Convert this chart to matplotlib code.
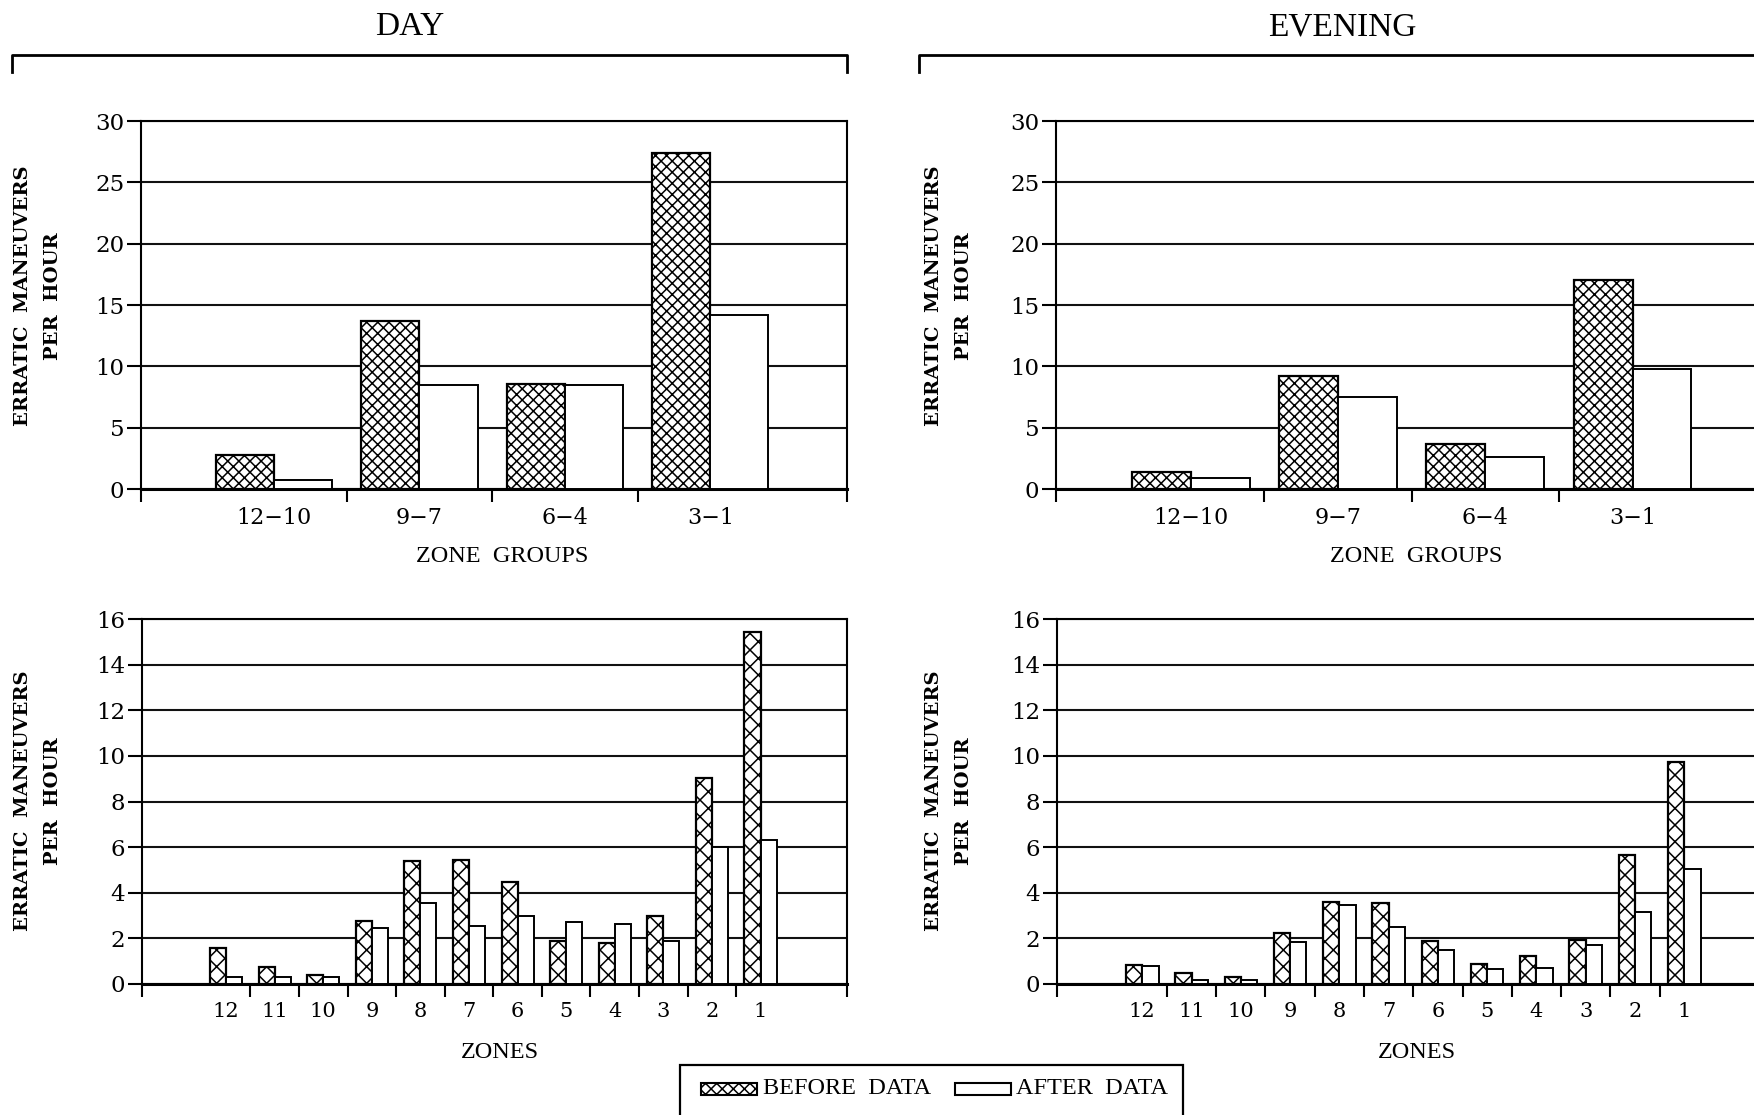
import numpy as np
import matplotlib
matplotlib.use("Agg")
import matplotlib.pyplot as plt
from matplotlib.patches import Rectangle
from matplotlib.lines import Line2D

# zone groups (top row) and single zones (bottom row)
group_labels = ["12\u221210", "9\u22127", "6\u22124", "3\u22121"]
zone_labels = ["12", "11", "10", "9", "8", "7", "6", "5", "4", "3", "2", "1"]

day_groups_before = [2.8, 13.7, 8.6, 27.4]
day_groups_after = [0.7, 8.5, 8.5, 14.2]
eve_groups_before = [1.4, 9.2, 3.7, 17.0]
eve_groups_after = [0.9, 7.5, 2.6, 9.8]

day_zones_before = [1.57, 0.73, 0.38, 2.75, 5.4, 5.45, 4.45, 1.9, 1.8, 3.0, 9.05, 15.45]
day_zones_after = [0.32, 0.32, 0.32, 2.45, 3.55, 2.55, 3.0, 2.72, 2.62, 1.9, 6.0, 6.3]
eve_zones_before = [0.83, 0.47, 0.32, 2.25, 3.6, 3.57, 1.87, 0.88, 1.24, 1.95, 5.65, 9.72]
eve_zones_after = [0.8, 0.19, 0.19, 1.82, 3.45, 2.52, 1.5, 0.66, 0.72, 1.72, 3.15, 5.02]

W, H = 1754, 1115
plt.rcParams['font.family'] = ['DejaVu Serif']
plt.rcParams['hatch.linewidth'] = 1.1
plt.rcParams['hatch.color'] = 'black'

fig = plt.figure(figsize=(W / 100, H / 100), dpi=100)
fig.patch.set_facecolor('white')


def px_axes(left, top, right, bottom):
    return fig.add_axes([left / W, 1 - bottom / H, (right - left) / W, (bottom - top) / H])


def draw_panel(ax, labels, before, after, ymax, ystep, xlim, width, hatch, fs):
    x = np.arange(len(labels))
    ax.bar(x - width, before, width, align='edge', color='white', edgecolor='black',
           hatch=hatch, linewidth=1.6, zorder=3)
    ax.bar(x, after, width, align='edge', color='white', edgecolor='black',
           linewidth=1.4, zorder=3)
    ax.set_xlim(xlim)
    ax.set_ylim(0, ymax)
    ax.set_yticks(np.arange(0, ymax + 1, ystep))
    ax.yaxis.grid(True, color='#111111', linewidth=1.5)
    ax.set_axisbelow(True)
    ax.set_xticks(x, labels)
    bounds = list(x[:-1] + 0.5) + list(xlim)
    ax.set_xticks(bounds, minor=True)
    ax.tick_params(axis='x', which='major', length=0, pad=13, labelsize=fs)
    ax.tick_params(axis='x', which='minor', length=9, width=1.5, direction='out')
    ax.tick_params(axis='y', length=10, width=1.5, pad=2, labelsize=16.5)
    for s in ax.spines.values():
        s.set_linewidth(1.5)
    ax.spines['bottom'].set_linewidth(2.2)


# top row: zone groups
ax1 = px_axes(141, 121, 847, 489)
draw_panel(ax1, group_labels, day_groups_before, day_groups_after, 30, 5,
           (-0.915, 3.94), 0.4, 'xxx', 16)
ax2 = px_axes(1056, 121, 1771, 489)
draw_panel(ax2, group_labels, eve_groups_before, eve_groups_after, 30, 5,
           (-0.915, 3.94), 0.4, 'xxx', 16)

# bottom row: single zones
ax3 = px_axes(142, 619, 847, 984)
draw_panel(ax3, zone_labels, day_zones_before, day_zones_after, 16, 2,
           (-1.73, 12.78), 0.33, 'xx', 15)
ax4 = px_axes(1057, 619, 1772, 984)
draw_panel(ax4, zone_labels, eve_zones_before, eve_zones_after, 16, 2,
           (-1.73, 12.78), 0.33, 'xx', 15)

# titles and brackets
title_font = dict(family='Liberation Serif', fontsize=24, ha='center', va='center')
fig.text(410 / W, 1 - 27 / H, 'DAY', **title_font)
fig.text(1342 / W, 1 - 27 / H, 'EVENING', **title_font)

for xs in ([12, 12, 847, 847], [919, 919, 1800, 1800]):
    ys = [72, 55, 55, 72]
    fig.add_artist(Line2D([v / W for v in xs], [1 - v / H for v in ys],
                          transform=fig.transFigure, color='black', linewidth=2.0))

# axis titles
ylab = "ERRATIC  MANEUVERS\nPER  HOUR"
for cx, cy in ((38, 296), (949, 296), (38, 801), (949, 801)):
    fig.text(cx / W, 1 - cy / H, ylab, rotation=90, ha='center', va='center',
             fontsize=14, fontweight='bold', linespacing=1.85)

xl_font = dict(family='Liberation Serif', fontsize=17.5, ha='center', va='center')
fig.text(502 / W, 1 - 556 / H, 'ZONE  GROUPS', **xl_font)
fig.text(1416 / W, 1 - 556 / H, 'ZONE  GROUPS', **xl_font)
fig.text(500 / W, 1 - 1053 / H, 'ZONES', **xl_font)
fig.text(1417 / W, 1 - 1053 / H, 'ZONES', **xl_font)

# legend box (runs off the bottom edge)
fig.add_artist(Rectangle((680 / W, 1 - 1140 / H), (1183 - 680) / W, 75 / H,
                         transform=fig.transFigure, fill=False, edgecolor='black', linewidth=1.6))
fig.add_artist(Rectangle((701 / W, 1 - 1095 / H), 56 / W, 12 / H, transform=fig.transFigure,
                         facecolor='white', edgecolor='black', hatch='xxx', linewidth=1.5))
fig.add_artist(Rectangle((955 / W, 1 - 1095 / H), 56 / W, 12 / H, transform=fig.transFigure,
                         facecolor='white', edgecolor='black', linewidth=1.5))
fig.text(763 / W, 1 - 1089 / H, 'BEFORE  DATA', family='Liberation Serif', fontsize=17.5,
         ha='left', va='center')
fig.text(1016 / W, 1 - 1089 / H, 'AFTER  DATA', family='Liberation Serif', fontsize=17.5,
         ha='left', va='center')

fig.savefig('out.png', dpi=100, facecolor='white')
